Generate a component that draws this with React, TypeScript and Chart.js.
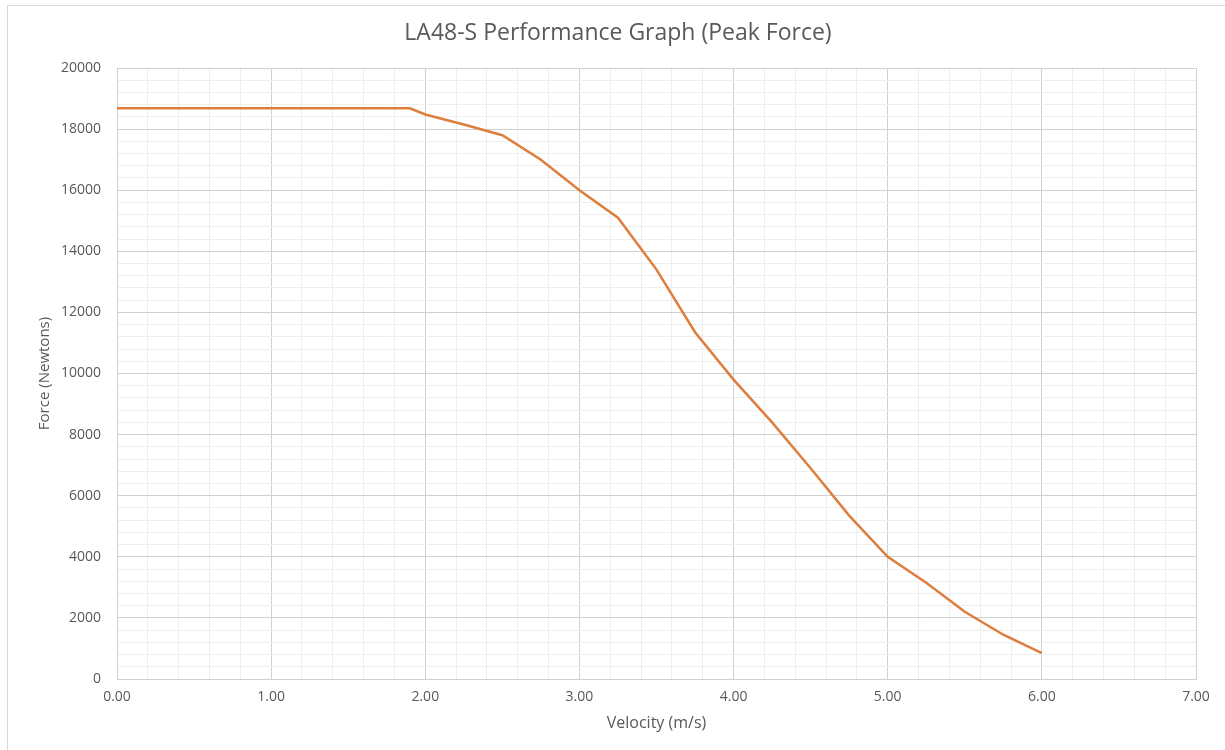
import React, { useEffect, useRef } from "react";
import { Chart, registerables } from "chart.js";

Chart.register(...registerables);

const velocity = [0, 1.9, 2.0, 2.25, 2.5, 2.75, 3.0, 3.25, 3.5, 3.75, 4.0, 4.25, 4.5, 4.75, 5.0, 5.25, 5.5, 5.75, 6.0];
const force = [18680, 18680, 18480, 18150, 17800, 17000, 16000, 15100, 13400, 11350, 9800, 8400, 6900, 5350, 4000, 3150, 2200, 1450, 850];

const xMin = 0;
const xMax = 7;
const xMinorStep = 0.2;
const xMajorStep = 1;
const yMin = 0;
const yMax = 20000;
const yMinorStep = 400;
const yMajorStep = 2000;

const titleText = "LA48-S Performance Graph (Peak Force)";
const xTitle = "Velocity (m/s)";
const yTitle = "Force (Newtons)";

const FONT = "'Open Sans', 'Noto Sans', sans-serif";
const TEXT = "#595959";
const MAJOR = "#d0d0d0";
const MINOR = "#eeeeee";

const isMultiple = (v: number, step: number) => Math.abs(v / step - Math.round(v / step)) < 1e-6;

const titlePlugin = {
  id: "excelTitle",
  afterDraw(chart: any) {
    const ctx = chart.ctx;
    ctx.save();
    ctx.fillStyle = TEXT;
    ctx.font = `23px ${FONT}`;
    ctx.textAlign = "center";
    ctx.textBaseline = "middle";
    ctx.fillText(titleText, 618, 33);
    ctx.restore();
  },
};

export default function App() {
  const ref = useRef<HTMLCanvasElement | null>(null);

  useEffect(() => {
    if (!ref.current) return;
    const chart = new Chart(ref.current, {
      type: "line",
      data: {
        datasets: [
          {
            data: velocity.map((v, i) => ({ x: v, y: force[i] })),
            borderColor: "#DD7E3C",
            borderWidth: 2.5,
            pointRadius: 0,
            tension: 0,
            fill: false,
          },
        ],
      },
      plugins: [titlePlugin],
      options: {
        animation: false,
        responsive: false,
        maintainAspectRatio: false,
        layout: { padding: { left: 0, right: 29, top: 68, bottom: 0 } },
        plugins: {
          legend: { display: false },
          tooltip: { enabled: false },
          title: { display: false },
        },
        scales: {
          x: {
            type: "linear",
            min: xMin,
            max: xMax,
            afterFit: (s: any) => {
              s.height = 71;
            },
            ticks: {
              stepSize: xMinorStep,
              autoSkip: false,
              maxRotation: 0,
              color: TEXT,
              padding: 10,
              font: { family: FONT, size: 14 },
              callback: (v: any) => (isMultiple(Number(v), xMajorStep) ? Number(v).toFixed(2) : ""),
            },
            grid: {
              drawTicks: false,
              color: (c: any) => (c.tick && isMultiple(c.tick.value, xMajorStep) ? MAJOR : MINOR),
              lineWidth: 1,
            },
            border: { color: MAJOR },
            title: {
              display: true,
              text: xTitle,
              color: TEXT,
              font: { family: FONT, size: 16 },
              padding: { top: 0, bottom: 17 },
            },
          },
          y: {
            type: "linear",
            min: yMin,
            max: yMax,
            afterFit: (s: any) => {
              s.width = 117;
            },
            ticks: {
              stepSize: yMinorStep,
              autoSkip: false,
              color: TEXT,
              padding: 16,
              font: { family: FONT, size: 14 },
              callback: (v: any) => (isMultiple(Number(v), yMajorStep) ? String(v) : ""),
            },
            grid: {
              drawTicks: false,
              color: (c: any) => (c.tick && isMultiple(c.tick.value, yMajorStep) ? MAJOR : MINOR),
              lineWidth: 1,
            },
            border: { color: MAJOR },
            title: {
              display: true,
              text: yTitle,
              color: TEXT,
              font: { family: FONT, size: 15 },
              padding: { top: 36, bottom: 0 },
            },
          },
        },
      },
    });
    return () => chart.destroy();
  }, []);

  return (
    <div
      style={{
        position: "fixed",
        left: 0,
        top: 0,
        width: 1225,
        height: 750,
        overflow: "hidden",
        background: "#fff",
      }}
    >
      <div
        style={{
          position: "absolute",
          left: 7,
          top: 5,
          width: 1400,
          height: 900,
          borderTop: "1px solid #d9d9d9",
          borderLeft: "1px solid #d9d9d9",
        }}
      />
      <canvas ref={ref} width={1225} height={750} style={{ position: "absolute", left: 0, top: 0, display: "block" }} />
    </div>
  );
}
